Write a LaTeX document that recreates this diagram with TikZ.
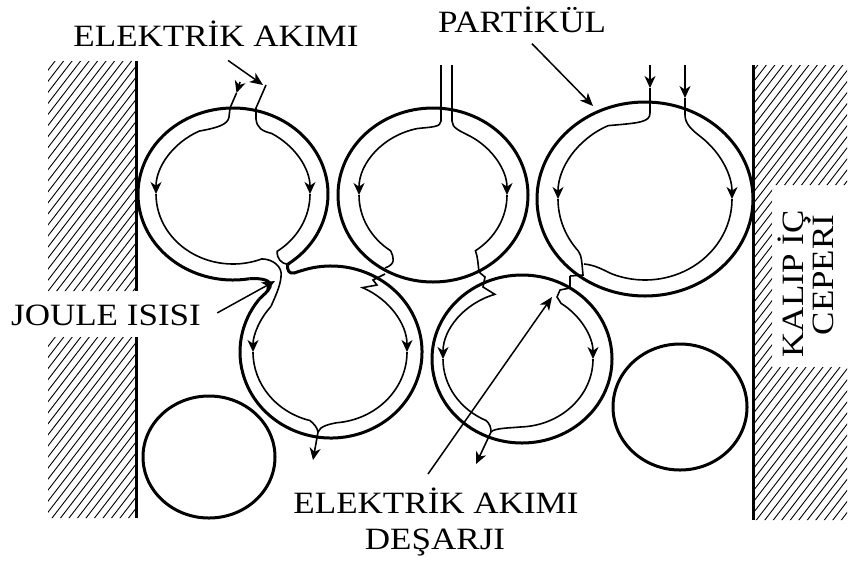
\documentclass[tikz,border=0pt]{standalone}
\usepackage{fontspec}
\setmainfont{Liberation Serif}[FakeStretch=1.13]
\usetikzlibrary{calc,arrows.meta}

\tikzset{
  grain/.style={line width=1.5pt},
  currentline/.style={line width=0.8pt},
  currentflow/.style={currentline,-{Stealth[length=6pt,width=5.5pt,inset=1.8pt]}},
  pointer/.style={line width=0.75pt,-{Stealth[length=6.5pt,width=5.5pt,inset=1.8pt]}},
  hatch/.style={line width=0.45pt},
  wall/.style={line width=1.5pt},
  lbl/.style={font=\fontsize{15.5}{18.5}\selectfont,inner sep=0pt},
}

\begin{document}
\begin{tikzpicture}[x=0.5pt,y=-0.5pt]
\useasboundingbox (0,0) rectangle (850,563);

% particle centres
\coordinate (pA) at (233,194);
\coordinate (pB) at (433,195);
\coordinate (pC) at (645,199);
\coordinate (pD) at (331,352);
\coordinate (pDi) at (330,352);
\coordinate (pE) at (522,359);
\coordinate (pEi) at (518,359);
\coordinate (pF) at (209,457);
\coordinate (pG) at (680,407);

% die walls
\begin{scope}
  \clip (48,61) rectangle (136,291) (48,337) rectangle (136,518);
  \foreach \k in {0,...,56} \draw[hatch] ({-315+8.5*\k},520) -- ++(400,-520);
\end{scope}
\draw[wall] (136,61) -- (136,291) (136,337) -- (136,518);

\begin{scope}
  \clip (753,65) -- (847,65) -- (847,185) -- (772,185) -- (772,367) -- (847,367) -- (847,520) -- (753,520) -- cycle;
  \foreach \k in {0,...,59} \draw[hatch] ({353+8.5*\k},525) -- ++(400,-520);
\end{scope}
\draw[wall] (753,65) -- (753,520);

% particles
\draw[grain] ($(pA)+(55:95 and 86)$) arc[start angle=55, end angle=-280, x radius=95, y radius=86];
\draw[grain] ($(pD)+(252:91 and 86)$) arc[start angle=252, end angle=578, x radius=91, y radius=86];
\draw[grain] (pB) ellipse[x radius=95, y radius=87];
\draw[grain] (pC) ellipse[x radius=108, y radius=97];
\draw[grain] (pE) ellipse[x radius=90, y radius=84];
\draw[grain] (pF) ellipse[x radius=66, y radius=61];
\draw[grain] (pG) ellipse[x radius=67, y radius=63];

% neck between A and D
\draw[grain] ($(pA)+(80:95 and 86)$) .. controls (262,278) and (272,280) .. (270,287)
  .. controls (268,292) and (263,295) .. ($(pD)+(218:91 and 86)$);
\draw[grain] ($(pA)+(55:95 and 86)$) .. controls (287,270) and (289,274) .. (294,273)
  .. controls (297,272) .. ($(pD)+(252:91 and 86)$);

% current in A
\draw[currentflow] (240,82) -- (236.5,93);
\draw[currentflow] (236.5,93) -- (230,108) -- (229,117) .. controls (228,125) and (216,128) ..
  ($(pA)+(244:77 and 70)$) arc[start angle=244, end angle=180, x radius=77, y radius=70];
\draw[currentline] ($(pA)+(180:77 and 70)$) arc[start angle=180, end angle=68, x radius=77, y radius=70]
  .. controls (272,259) and (283,266) .. (281,277)
  .. controls (280,287) and (275,297) .. ($(pDi)+(220:77 and 71)$);
\draw[currentflow] (266,85) -- (256,108) -- (256,119) .. controls (257,128) and (262,131) ..
  ($(pA)+(300:77 and 70)$) arc[start angle=300, end angle=360, x radius=77, y radius=70];
\draw[currentline] ($(pA)+(0:77 and 70)$) arc[start angle=0, end angle=55, x radius=77, y radius=70]
  .. controls (277,259) and (281,263) .. ($(pA)+(55:95 and 86)$);

% current in B
\draw[currentflow] (441,65) -- (441,121) .. controls (441,127) and (432,127) ..
  ($(pB)+(258:74 and 68)$) arc[start angle=258, end angle=180, x radius=74, y radius=68];
\draw[currentline] ($(pB)+(180:74 and 68)$) arc[start angle=180, end angle=125, x radius=74, y radius=68]
  .. controls (394,258) and (396,264) .. (385,268);
\draw[currentflow] (452,65) -- (452,121) .. controls (452,128) and (460,131) ..
  ($(pB)+(300:74 and 68)$) arc[start angle=300, end angle=360, x radius=74, y radius=68];
\draw[currentline] ($(pB)+(0:74 and 68)$) arc[start angle=0, end angle=55, x radius=74, y radius=68]
  .. controls (478,258) and (478,264) .. (479,272);

% current in C
\draw[currentflow] (650,65) -- (650,88);
\draw[currentflow] (650,88) -- (650,113) .. controls (650,122) and (640,123) ..
  ($(pC)+(245:87 and 81)$) arc[start angle=245, end angle=180, x radius=87, y radius=81];
\draw[currentline] ($(pC)+(180:87 and 81)$) arc[start angle=180, end angle=140, x radius=87, y radius=81]
  .. controls (581,256) .. (582,264) -- (583,275) -- (570,276);
\draw[currentflow] (685,65) -- (685,98);
\draw[currentflow] (685,98) -- (685,115) .. controls (685,124) and (692,130) ..
  ($(pC)+(310:87 and 81)$) arc[start angle=310, end angle=360, x radius=87, y radius=81];
\draw[currentline] ($(pC)+(0:87 and 81)$) arc[start angle=0, end angle=112, x radius=87, y radius=81]
  .. controls (605,271) and (596,265) .. (584,264);

% current in D
\coordinate (dOut) at (318,432);
\draw[currentflow] ($(pDi)+(220:77 and 71)$) arc[start angle=220, end angle=180, x radius=77, y radius=71];
\draw[currentline] ($(pDi)+(180:77 and 71)$) arc[start angle=180, end angle=105, x radius=77, y radius=71]
  .. controls (314,424) and (317,427) .. (dOut);
\draw[currentflow] (385,274) -- (373,280) -- (377,285) --
  ($(pDi)+(295:77 and 71)$) arc[start angle=295, end angle=360, x radius=77, y radius=71];
\draw[currentline] ($(pDi)+(0:77 and 71)$) arc[start angle=0, end angle=85, x radius=77, y radius=71]
  .. controls (330,424) and (320,426) .. (dOut);
\draw[currentflow] (dOut) -- (313,460);

% current in E
\coordinate (eOut) at (491,432);
\draw[currentflow] (479,272) -- (485,277) -- (483,287) --
  ($(pEi)+(252:75 and 68)$) arc[start angle=252, end angle=180, x radius=75, y radius=68];
\draw[currentline] ($(pEi)+(180:75 and 68)$) arc[start angle=180, end angle=115, x radius=75, y radius=68]
  .. controls (490,424) and (491,428) .. (eOut);
\draw[currentflow] (570,276) -- (570,288) -- (560,290) -- (557,297) --
  ($(pEi)+(305:75 and 68)$) arc[start angle=305, end angle=360, x radius=75, y radius=68];
\draw[currentline] ($(pEi)+(0:75 and 68)$) arc[start angle=0, end angle=88, x radius=75, y radius=68]
  .. controls (510,428) and (494,428) .. (eOut);
\draw[currentflow] (eOut) -- (476,464);

% labels
\node[lbl, anchor=base] (curIn) at (216,46) {ELEKTRİK AKIMI};
\node[lbl, anchor=base] (part) at (522,32) {PARTİKÜL};
\node[lbl, anchor=base] (joule) at (106,325) {JOULE ISISI};
\node[lbl, anchor=base] (dis) at (436,513) {ELEKTRİK AKIMI};
\node[lbl, anchor=base] (disB) at (435,549) {DEŞARJI};
\node[lbl, anchor=base, rotate=90] (mold) at (803,284) {KALIP İÇ};
\node[lbl, anchor=base, rotate=90] (moldB) at (833,275) {CEPERİ};

% pointers
\coordinate (tipA) at (263,85);
\coordinate (tipC) at (593,106);
\coordinate (neck) at (275,281);
\coordinate (spark) at (552,297);
\draw[pointer] (curIn.south) ++(12,14) -- (tipA);
\draw[pointer] (part.south) ++(10,11) -- (tipC);
\draw[pointer] (joule.east) ++(16,-2) -- (neck);
\draw[pointer] (dis.north) ++(-8,-13) -- (spark);
\end{tikzpicture}
\end{document}
